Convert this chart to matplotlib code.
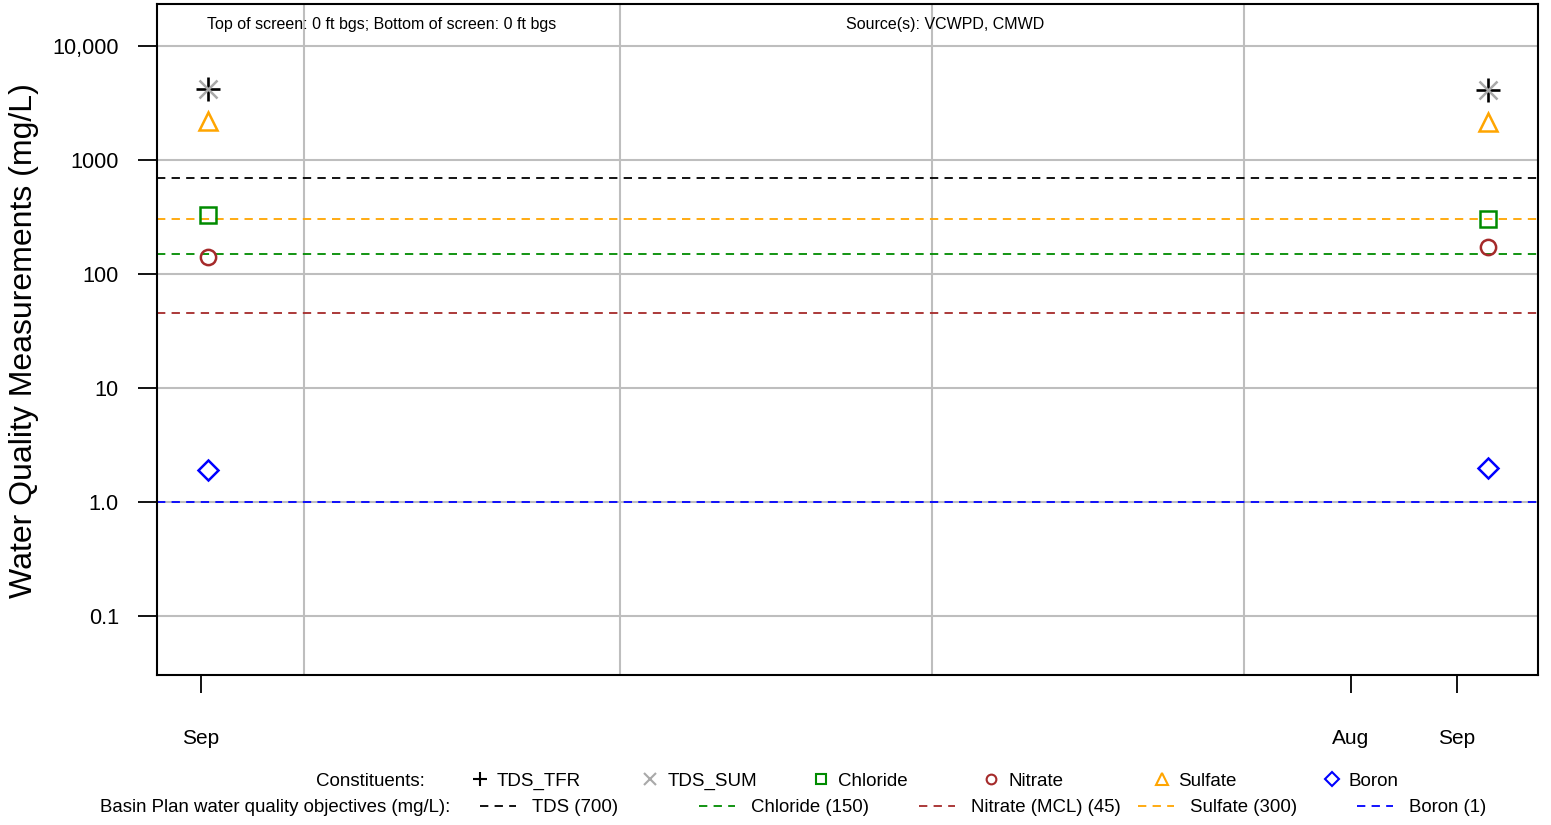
import matplotlib
matplotlib.use("Agg")
import matplotlib.pyplot as plt
import matplotlib.dates as mdates
from matplotlib.ticker import FixedLocator, FixedFormatter, NullFormatter
from datetime import datetime, timedelta

plt.rcParams['font.family'] = ['Liberation Sans', 'DejaVu Sans']
plt.rcParams['lines.scale_dashes'] = False

# dados
sample_dates = [datetime(2019, 9, 3), datetime(2020, 9, 10)]
tds_tfr = [4200, 4100]
tds_sum = [4200, 4100]
chloride = [330, 303]
nitrate = [141, 172]
sulfate = [2200, 2150]
boron = [1.91, 1.99]

# objetivos do Basin Plan
objective_names = ['TDS (700)', 'Chloride (150)', 'Nitrate (MCL) (45)', 'Sulfate (300)', 'Boron (1)']
objective_values = [700, 150, 45, 300, 1]
objective_colors = ['black', '#008B00', '#A52A2A', '#FFA500', '#0000FF']

constituent_names = ['TDS_TFR', 'TDS_SUM', 'Chloride', 'Nitrate', 'Sulfate', 'Boron']

x_tick_dates = [datetime(2019, 9, 1), datetime(2020, 8, 1), datetime(2020, 9, 1)]
x_tick_labels = ['Sep', 'Aug', 'Sep']
x_grid_dates = [datetime(2019, 10, 1), datetime(2020, 1, 1), datetime(2020, 4, 1), datetime(2020, 7, 1)]
y_ticks = [0.1, 1, 10, 100, 1000, 10000]
y_tick_labels = ['0.1', '1.0', '10', '100', '1000', '10,000']

fig = plt.figure(figsize=(15.51, 8.25), dpi=100)
ax = fig.add_axes([157 / 1551, 1 - 675 / 825, 1381 / 1551, 671 / 825])

ax.set_yscale('log')
ax.set_ylim(0.0303, 23300)
ax.set_xlim(datetime(2019, 9, 1) - timedelta(days=12.8), datetime(2020, 9, 1) + timedelta(days=23.6))

# grade
for v in y_ticks:
    ax.axhline(v, color='#BEBEBE', lw=1.5, zorder=1)
for d in x_grid_dates:
    ax.axvline(d, color='#BEBEBE', lw=1.5, zorder=1)

dash = (0, (6, 4.5))
for v, c in zip(objective_values, objective_colors):
    ax.axhline(v, color=c, lw=1.3, linestyle=dash, zorder=2)

mk = dict(linestyle='none', zorder=3)
ax.plot(sample_dates, tds_tfr, marker='+', ms=17, mew=1.9, color='black', **mk)
ax.plot(sample_dates, tds_sum, marker='x', ms=13, mew=1.8, color='#A9A9A9', **mk)
ax.plot(sample_dates, chloride, marker='s', ms=11, mew=1.8, mfc='none', color='#008B00', **mk)
ax.plot(sample_dates, nitrate, marker='o', ms=11, mew=1.8, mfc='none', color='#A52A2A', **mk)
ax.plot(sample_dates, sulfate, marker='^', ms=13, mew=1.8, mfc='none', color='#FFA500', **mk)
ax.plot(sample_dates, boron, marker='D', ms=10, mew=1.8, mfc='none', color='#0000FF', **mk)

# eixos
ax.yaxis.set_major_locator(FixedLocator(y_ticks))
ax.yaxis.set_major_formatter(FixedFormatter(y_tick_labels))
ax.yaxis.set_minor_locator(FixedLocator([]))
ax.yaxis.set_minor_formatter(NullFormatter())
ax.set_xticks(mdates.date2num(x_tick_dates))
ax.set_xticklabels(x_tick_labels)
ax.tick_params(axis='y', length=14, width=1.3, labelsize=15.7, pad=13.5)
ax.tick_params(axis='x', length=13, width=1.3, labelsize=15, pad=26)
for s in ax.spines.values():
    s.set_linewidth(1.5)

fig.text(24 / 1551, 1 - 341 / 825, 'Water Quality Measurements (mg/L)', rotation=90,
         ha='center', va='center', fontsize=23)

ax.text(0.163, 0.969, 'Top of screen: 0 ft bgs; Bottom of screen: 0 ft bgs',
        transform=ax.transAxes, ha='center', va='center', fontsize=11.5)
ax.text(0.571, 0.969, 'Source(s): VCWPD, CMWD',
        transform=ax.transAxes, ha='center', va='center', fontsize=11.5)

# legenda manual embaixo
lax = fig.add_axes([0, 0, 1, 1], facecolor='none')
lax.set_xlim(0, 1551)
lax.set_ylim(825, 0)
lax.axis('off')

lax.text(425, 781, 'Constituents:', ha='right', va='center', fontsize=13.5)
leg_markers = [('+', 'black', 10, 'black'), ('x', '#A9A9A9', 8, '#A9A9A9'),
               ('s', '#008B00', 7, 'none'), ('o', '#A52A2A', 7, 'none'),
               ('^', '#FFA500', 8, 'none'), ('D', '#0000FF', 7, 'none')]
for i, (name, (m, c, s, fc)) in enumerate(zip(constituent_names, leg_markers)):
    x0 = 480 + 170.4 * i
    lax.plot([x0], [779], marker=m, color=c, ms=s, mew=1.5, mfc=fc, linestyle='none')
    lax.text(x0 + 17, 781, name, ha='left', va='center', fontsize=13.5)

lax.text(450, 808, 'Basin Plan water quality objectives (mg/L):', ha='right', va='center', fontsize=13.4)
for i, (name, c) in enumerate(zip(objective_names, objective_colors)):
    x0 = 480 + 219.3 * i
    lax.plot([x0, x0 + 36], [806, 806], color=c, lw=1.3, linestyle=(0, (6, 4.5)))
    lax.text(x0 + 52, 808, name, ha='left', va='center', fontsize=13.4)

fig.savefig('out.png', dpi=100)
